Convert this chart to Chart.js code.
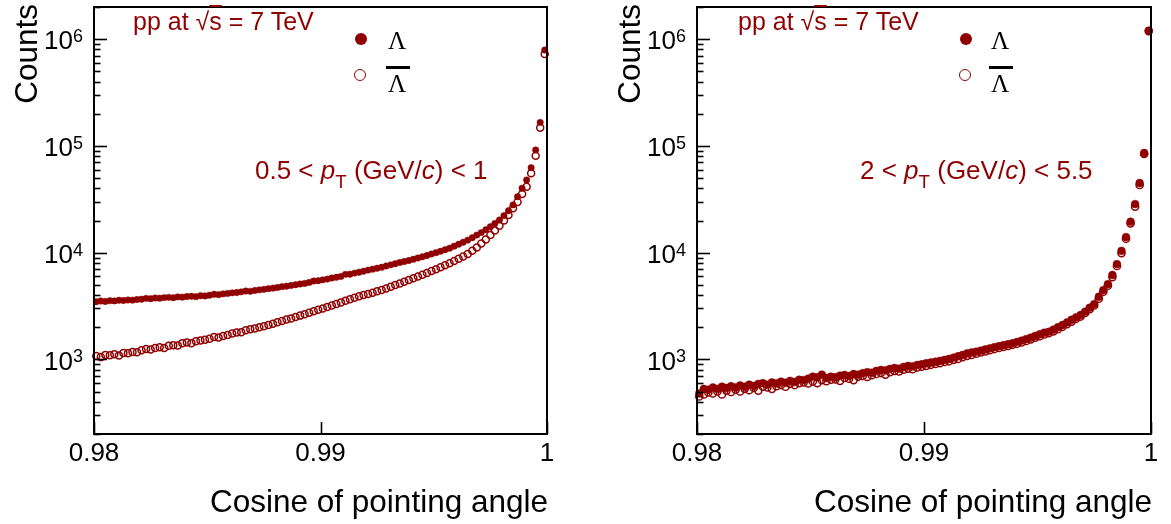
<!DOCTYPE html>
<html>
<head>
<meta charset="utf-8">
<script src="https://cdn.jsdelivr.net/npm/chart.js@4.4.0/dist/chart.umd.min.js"></script>
<style>
  body { margin: 0; background: #fff; width: 1171px; height: 524px; position: relative; overflow: hidden;
         font-family: "Liberation Sans", Arial, sans-serif; }
  canvas { position: absolute; top: 0; }
  #leftPanel { left: 0; }
  #rightPanel { left: 585px; }
  .note { position: absolute; color: #900000; white-space: nowrap; line-height: 1; }
  .note sub { font-size: 0.72em; position: relative; top: 0.15em; }
  .ov { text-decoration: overline; }
  .dotFull { position: absolute; width: 12px; height: 12px; border-radius: 50%; background: #900000; }
  .dotOpen { position: absolute; width: 10px; height: 10px; border-radius: 50%; border: 1.7px solid #900000; }
  .lam { position: absolute; font-family: "Liberation Serif", "Times New Roman", serif; font-size: 25px; line-height: 1; color: #000; }
  .bar { position: absolute; height: 3px; width: 24px; background: #000; }
</style>
</head>
<body>
<canvas id="leftPanel" width="585" height="524"></canvas>
<canvas id="rightPanel" width="586" height="524"></canvas>

<!-- left panel notes -->
<div class="note" style="left:133px; top:9px; font-size:25px;">pp at <span>√<span class="ov">s</span></span> = 7 TeV</div>
<div class="note" style="left:255px; top:157px; font-size:26px;">0.5 &lt; <i>p</i><sub>T</sub> (GeV/<i>c</i>) &lt; 1</div>
<div class="dotFull" style="left:355px; top:33px;"></div>
<div class="lam" style="left:388px; top:28px;">Λ</div>
<div class="dotOpen" style="left:354px; top:69px;"></div>
<div class="bar" style="left:386px; top:66px;"></div>
<div class="lam" style="left:388px; top:71px;">Λ</div>

<!-- right panel notes -->
<div class="note" style="left:738px; top:9px; font-size:25px;">pp at <span>√<span class="ov">s</span></span> = 7 TeV</div>
<div class="note" style="left:860px; top:157px; font-size:26px;">2 &lt; <i>p</i><sub>T</sub> (GeV/<i>c</i>) &lt; 5.5</div>
<div class="dotFull" style="left:960px; top:33px;"></div>
<div class="lam" style="left:991px; top:28px;">Λ</div>
<div class="dotOpen" style="left:959px; top:69px;"></div>
<div class="bar" style="left:989px; top:66px;"></div>
<div class="lam" style="left:991px; top:71px;">Λ</div>

<script>
// bin centres of cos(pointing angle), 100 bins of 0.0002
const cosBins = [
  0.9801, 0.9803, 0.9805, 0.9807, 0.9809, 0.9811, 0.9813, 0.9815, 0.9817, 0.9819,
  0.9821, 0.9823, 0.9825, 0.9827, 0.9829, 0.9831, 0.9833, 0.9835, 0.9837, 0.9839,
  0.9841, 0.9843, 0.9845, 0.9847, 0.9849, 0.9851, 0.9853, 0.9855, 0.9857, 0.9859,
  0.9861, 0.9863, 0.9865, 0.9867, 0.9869, 0.9871, 0.9873, 0.9875, 0.9877, 0.9879,
  0.9881, 0.9883, 0.9885, 0.9887, 0.9889, 0.9891, 0.9893, 0.9895, 0.9897, 0.9899,
  0.9901, 0.9903, 0.9905, 0.9907, 0.9909, 0.9911, 0.9913, 0.9915, 0.9917, 0.9919,
  0.9921, 0.9923, 0.9925, 0.9927, 0.9929, 0.9931, 0.9933, 0.9935, 0.9937, 0.9939,
  0.9941, 0.9943, 0.9945, 0.9947, 0.9949, 0.9951, 0.9953, 0.9955, 0.9957, 0.9959,
  0.9961, 0.9963, 0.9965, 0.9967, 0.9969, 0.9971, 0.9973, 0.9975, 0.9977, 0.9979,
  0.9981, 0.9983, 0.9985, 0.9987, 0.9989, 0.9991, 0.9993, 0.9995, 0.9997, 0.9999
];

// ---- 0.5 < pT < 1 ----
const lowLambda = [
  3470, 3520, 3490, 3550, 3530, 3580, 3560, 3600, 3590, 3640,
  3660, 3730, 3700, 3760, 3740, 3790, 3810, 3780, 3850, 3830,
  3880, 3900, 3870, 3950, 3930, 3990, 4070, 4040, 4110, 4150,
  4200, 4230, 4290, 4370, 4340, 4420, 4480, 4530, 4600, 4650,
  4720, 4800, 4850, 4930, 5000, 5080, 5150, 5260, 5420, 5460,
  5560, 5650, 5780, 5880, 5990, 6260, 6280, 6430, 6560, 6700,
  6860, 7000, 7150, 7290, 7500, 7680, 7870, 8080, 8250, 8450,
  8660, 8900, 9150, 9400, 9700, 10000, 10300, 10650, 11000, 11500,
  12000, 12500, 13100, 13800, 14600, 15400, 16400, 17500, 18800, 20200,
  22200, 24700, 28000, 33400, 40100, 47900, 62500, 91500, 166000, 790000
];
const lowAntiLambda = [
  1075, 1050, 1100, 1095, 1120, 1090, 1150, 1140, 1170, 1165,
  1220, 1250, 1240, 1280, 1300, 1280, 1340, 1360, 1350, 1420,
  1440, 1420, 1480, 1500, 1530, 1560, 1620, 1600, 1660, 1690,
  1750, 1790, 1800, 1870, 1920, 1950, 2000, 2040, 2100, 2160,
  2230, 2290, 2360, 2420, 2500, 2570, 2650, 2740, 2830, 2910,
  3000, 3100, 3200, 3310, 3420, 3545, 3660, 3780, 3900, 4000,
  4100, 4220, 4340, 4470, 4620, 4790, 4970, 5150, 5340, 5540,
  5750, 5980, 6220, 6460, 6720, 6990, 7280, 7600, 7950, 8330,
  8750, 9200, 9700, 10400, 11200, 12200, 13300, 14600, 16100, 17900,
  20000, 22500, 26000, 29800, 35400, 41500, 55400, 80900, 148000, 727000
];

// ---- 2 < pT < 5.5 ----
const highLambda = [
  480, 530, 520, 545, 530, 555, 540, 560, 545, 570,
  555, 580, 565, 590, 600, 580, 610, 595, 620, 605,
  630, 615, 645, 640, 660, 690, 680, 720, 670, 690,
  680, 705, 715, 700, 730, 720, 745, 760, 750, 780,
  796, 790, 815, 830, 820, 850, 870, 860, 887, 900,
  920, 935, 950, 970, 990, 1010, 1040, 1070, 1100, 1140,
  1160, 1183, 1210, 1240, 1270, 1300, 1330, 1360, 1390, 1417,
  1460, 1500, 1550, 1600, 1660, 1720, 1780, 1817, 1900, 2000,
  2100, 2220, 2350, 2480, 2604, 2800, 3050, 3300, 3860, 4460,
  5080, 6170, 7820, 10400, 14000, 19500, 28500, 44900, 85800, 1200000
];
const highAntiLambda = [
  450, 470, 490, 480, 500, 470, 510, 495, 520, 500,
  530, 515, 540, 510, 555, 545, 530, 560, 575, 555,
  590, 575, 600, 610, 595, 620, 600, 640, 625, 645,
  650, 630, 670, 660, 640, 690, 700, 685, 710, 730,
  745, 720, 760, 780, 770, 800, 820, 810, 840, 855,
  870, 890, 905, 920, 945, 960, 990, 1010, 1050, 1080,
  1100, 1130, 1160, 1190, 1220, 1250, 1280, 1310, 1340, 1370,
  1400, 1440, 1490, 1540, 1600, 1650, 1710, 1760, 1830, 1920,
  2020, 2140, 2260, 2400, 2520, 2720, 2950, 3200, 3700, 4300,
  4900, 5900, 7500, 9900, 13500, 18800, 27000, 43000, 84000, 1190000
];

const xTicks = [0.98, 0.99, 1];
const xTickLabels = ['0.98', '0.99', '1'];
const yMajor = [1e3, 1e4, 1e5, 1e6];
const yExponents = ['3', '4', '5', '6'];

const red = '#900000';
const font = '"Liberation Sans", Arial, sans-serif';

// ROOT-like frame: ticks inside the box, labels drawn by hand
const rootAxes = {
  id: 'rootAxes',
  afterDraw(chart) {
    const { ctx, chartArea: a, scales: { x, y } } = chart;
    ctx.save();
    ctx.strokeStyle = '#000';
    ctx.fillStyle = '#000';

    // y ticks, majors and minors
    ctx.lineWidth = 1.6;
    for (let dec = 100; dec <= 1e6; dec *= 10) {
      for (let m = 1; m <= 9; m++) {
        const v = m * dec;
        if (v < y.min || v > y.max) continue;
        const py = Math.round(y.getPixelForValue(v)) + 0.5;
        ctx.beginPath();
        ctx.moveTo(a.left, py);
        ctx.lineTo(a.left + (m === 1 ? 13 : 6.5), py);
        ctx.stroke();
      }
    }
    // x ticks (inner ones only)
    xTicks.forEach(v => {
      const px = Math.round(x.getPixelForValue(v)) + 0.5;
      ctx.beginPath();
      ctx.moveTo(px, a.bottom);
      ctx.lineTo(px, a.bottom - 12);
      ctx.stroke();
    });

    // frame
    ctx.lineWidth = 2;
    ctx.strokeRect(a.left, a.top, a.right - a.left, a.bottom - a.top);

    // y labels 10^n
    yMajor.forEach((v, i) => {
      const py = y.getPixelForValue(v);
      ctx.font = '18px ' + font;
      const ew = ctx.measureText(yExponents[i]).width;
      ctx.textAlign = 'left';
      ctx.textBaseline = 'top';
      ctx.fillText(yExponents[i], a.left - 11 - ew, py - 11);
      ctx.font = '26px ' + font;
      ctx.textAlign = 'right';
      ctx.textBaseline = 'middle';
      ctx.fillText('10', a.left - 11 - ew, py + 3);
    });

    // x labels
    ctx.font = '26px ' + font;
    ctx.textAlign = 'center';
    ctx.textBaseline = 'middle';
    xTicks.forEach((v, i) => {
      ctx.fillText(xTickLabels[i], x.getPixelForValue(v), 454);
    });

    // axis titles
    ctx.font = '31.5px ' + font;
    ctx.textAlign = 'right';
    ctx.textBaseline = 'middle';
    ctx.fillText('Cosine of pointing angle', a.right + 1, 503);

    ctx.translate(a.left - 66, 4);
    ctx.rotate(-Math.PI / 2);
    ctx.fillText('Counts', 0, 0);
    ctx.restore();
  }
};

function makePanel(id, lambda, antiLambda, padding, rFull, rOpen) {
  new Chart(document.getElementById(id), {
    type: 'scatter',
    data: {
      datasets: [
        {
          label: 'Lambda',
          data: cosBins.map((c, i) => ({ x: c, y: lambda[i] })),
          pointRadius: rFull,
          pointBackgroundColor: red,
          pointBorderColor: red,
          pointBorderWidth: 0.5,
          clip: false
        },
        {
          label: 'AntiLambda',
          data: cosBins.map((c, i) => ({ x: c, y: antiLambda[i] })),
          pointRadius: rOpen,
          pointBackgroundColor: 'rgba(0,0,0,0)',
          pointBorderColor: red,
          pointBorderWidth: 1.5,
          clip: false
        }
      ]
    },
    options: {
      responsive: false,
      animation: false,
      layout: { padding: padding },
      plugins: { legend: { display: false }, tooltip: { enabled: false } },
      scales: {
        x: { type: 'linear', min: 0.98, max: 1, display: false },
        y: { type: 'logarithmic', min: 200, max: 2e6, display: false }
      }
    },
    plugins: [rootAxes]
  });
}

makePanel('leftPanel', lowLambda, lowAntiLambda, { left: 94, right: 38, top: 7, bottom: 90 }, 3.2, 3.5);
makePanel('rightPanel', highLambda, highAntiLambda, { left: 112, right: 20, top: 7, bottom: 90 }, 3.9, 3.6);
</script>
</body>
</html>
